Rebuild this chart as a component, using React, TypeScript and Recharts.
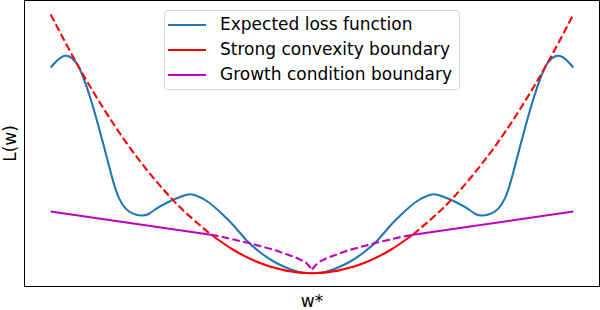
import React from 'react';
import { LineChart, Line, XAxis, YAxis, ReferenceArea, Legend } from 'recharts';

const FONT = '"DejaVu Sans", Verdana, sans-serif';

// Legend entries
const seriesNames = ['Expected loss function', 'Strong convexity boundary', 'Growth condition boundary'];
const seriesColors = ['#1f77b4', '#ff0000', '#bf00bf'];

// x tick (w*) position
const xTicks = [0];
const xTickLabels = ['w*'];

// Expected loss function
const blueX = [
  -1, -0.975, -0.95, -0.925, -0.9, -0.875, -0.85, -0.825, -0.8, -0.775, -0.75, -0.725, -0.7, -0.675, -0.65,
  -0.625, -0.6, -0.55, -0.5, -0.475, -0.45, -0.4, -0.35, -0.3, -0.25, -0.2, -0.15, -0.1, -0.05, 0,
  0.05, 0.1, 0.15, 0.2, 0.25, 0.3, 0.35, 0.4, 0.45, 0.475, 0.5, 0.55, 0.6, 0.625, 0.65, 0.675, 0.7,
  0.725, 0.75, 0.775, 0.8, 0.825, 0.85, 0.875, 0.9, 0.925, 0.95, 0.975, 1,
];
const blueY = [
  219, 226, 230.5, 229.5, 223, 209, 190, 168, 144, 119, 96, 82, 75, 72, 71,
  72.5, 77, 84.5, 90, 92, 91.5, 85, 74, 61, 46, 34.5, 25.5, 19, 14.5, 13.3,
  14.5, 19, 25.5, 34.5, 46, 61, 74, 85, 91.5, 92, 90, 84.5, 77, 72.5, 71, 72, 75,
  82, 96, 119, 144, 168, 190, 209, 223, 229.5, 230.5, 226, 219,
];

// Strong convexity boundary
const redLeftX = [-1, -0.9, -0.8, -0.7, -0.6, -0.5, -0.387];
const redLeftY = [272, 223, 179, 140, 106.5, 78, 52];
const redMidX = [-0.387, -0.3, -0.2, -0.1, 0, 0.1, 0.2, 0.3, 0.387];
const redMidY = [52, 36.5, 23.5, 15.9, 13.3, 15.9, 23.5, 36.5, 52];
const redRightX = [0.387, 0.5, 0.6, 0.7, 0.8, 0.9, 1];
const redRightY = [52, 78, 106.5, 140, 179, 223, 272];

// Growth condition boundary
const magLeftX = [-1, -0.387];
const magLeftY = [75, 51.7];
const magRightX = [0.387, 1];
const magRightY = [51.7, 75];
const magInLX = [-0.387, -0.35, -0.3, -0.25, -0.2, -0.15, -0.1, -0.05, -0.02, 0];
const magInLY = [51.7, 50, 47, 44, 40.5, 37, 32.5, 27.5, 23, 17];
const magInRX = [0, 0.02, 0.05, 0.1, 0.15, 0.2, 0.25, 0.3, 0.35, 0.387];
const magInRY = [17, 23, 27.5, 32.5, 37, 40.5, 44, 47, 50, 51.7];

const zip = (xs: number[], ys: number[]) => xs.map((x, i) => ({ x, y: ys[i] }));

function LegendBox() {
  return (
    <div
      style={{
        width: 296,
        height: 80,
        boxSizing: 'border-box',
        border: '1px solid #d6d6d6',
        borderRadius: 4,
        background: 'rgba(255,255,255,0.8)',
        fontFamily: FONT,
        fontSize: 17,
        color: '#000',
        paddingTop: 1,
      }}
    >
      {seriesNames.map((n, i) => (
        <div key={n} style={{ height: 25, display: 'flex', alignItems: 'center' }}>
          <div style={{ width: 38, height: 2, marginLeft: 3, background: seriesColors[i] }} />
          <span style={{ marginLeft: 14, whiteSpace: 'nowrap', lineHeight: '25px' }}>{n}</span>
        </div>
      ))}
    </div>
  );
}

export default function App() {
  const dash = '7.7 3.3';
  const sw = 2.1;
  return (
    <div style={{ position: 'absolute', left: 0, top: 0, width: 600, height: 310, background: '#fff' }}>
      <LineChart
        width={600}
        height={310}
        margin={{ top: 0.5, right: 0.5, bottom: 0, left: 0.5 }}
        style={{ fontFamily: FONT }}
      >
        <XAxis
          type="number"
          dataKey="x"
          domain={[-1.1, 1.1]}
          allowDataOverflow
          ticks={xTicks}
          tickFormatter={(v: number) => xTickLabels[xTicks.indexOf(v)] ?? ''}
          height={23.5}
          axisLine={false}
          tickLine={false}
          tickMargin={2}
          tick={{ fill: '#000', fontSize: 17, fontFamily: FONT }}
        />
        <YAxis
          type="number"
          dataKey="y"
          domain={[0, 286]}
          allowDataOverflow
          width={24}
          tick={false}
          axisLine={false}
          tickLine={false}
          label={{
            value: 'L(w)',
            angle: -90,
            position: 'center',
            dx: -3,
            style: { fontSize: 17, fill: '#000', fontFamily: FONT },
          }}
        />
        <Line data={zip(blueX, blueY)} dataKey="y" type="natural" stroke={seriesColors[0]} strokeWidth={sw} dot={false} isAnimationActive={false} legendType="none" />
        <Line data={zip(redLeftX, redLeftY)} dataKey="y" type="natural" stroke={seriesColors[1]} strokeWidth={sw} strokeDasharray={dash} dot={false} isAnimationActive={false} legendType="none" />
        <Line data={zip(redMidX, redMidY)} dataKey="y" type="natural" stroke={seriesColors[1]} strokeWidth={sw} dot={false} isAnimationActive={false} legendType="none" />
        <Line data={zip(redRightX, redRightY)} dataKey="y" type="natural" stroke={seriesColors[1]} strokeWidth={sw} strokeDasharray={dash} dot={false} isAnimationActive={false} legendType="none" />
        <Line data={zip(magLeftX, magLeftY)} dataKey="y" type="linear" stroke={seriesColors[2]} strokeWidth={sw} dot={false} isAnimationActive={false} legendType="none" />
        <Line data={zip(magRightX, magRightY)} dataKey="y" type="linear" stroke={seriesColors[2]} strokeWidth={sw} dot={false} isAnimationActive={false} legendType="none" />
        <Line data={zip(magInLX, magInLY)} dataKey="y" type="monotone" stroke={seriesColors[2]} strokeWidth={sw} strokeDasharray={dash} dot={false} isAnimationActive={false} legendType="none" />
        <Line data={zip(magInRX, magInRY)} dataKey="y" type="monotone" stroke={seriesColors[2]} strokeWidth={sw} strokeDasharray={dash} dot={false} isAnimationActive={false} legendType="none" />
        <ReferenceArea x1={-1.1} x2={1.1} y1={0} y2={286} fill="none" stroke="#000" strokeWidth={1} ifOverflow="visible" />
        <Legend
          layout="vertical"
          align="center"
          verticalAlign="middle"
          content={() => <LegendBox />}
          wrapperStyle={{ left: 164, top: 10, width: 296, height: 80 }}
        />
      </LineChart>
    </div>
  );
}
